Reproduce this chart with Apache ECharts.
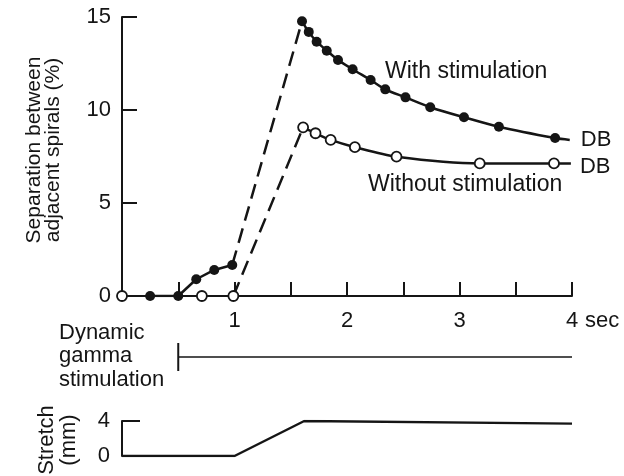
<!DOCTYPE html>
<html lang="en">
<head>
<meta charset="UTF-8">
<title>Spiral separation with and without stimulation</title>
<script src="https://cdn.jsdelivr.net/npm/echarts@6/dist/echarts.min.js"></script>
<style>
    html, body { margin: 0; padding: 0; background: #fff; }
    #main { width: 624px; height: 476px; }
</style>
</head>
<body>
<div id="main"></div>
<script>
// values: [time (sec), separation (%)]
var withPre = [[0.25, 0], [0.5, 0], [0.66, 0.9], [0.82, 1.4], [0.98, 1.67]];
var withPost = [[1.6, 14.77], [1.66, 14.2], [1.73, 13.67], [1.82, 13.19], [1.92, 12.69],
                [2.05, 12.19], [2.21, 11.61], [2.34, 11.11], [2.52, 10.68], [2.74, 10.15],
                [3.04, 9.61], [3.35, 9.1], [3.85, 8.49]];
var withEnd = [3.98, 8.39];

var withoutPre = [[0, 0], [0.71, 0], [0.99, 0]];
var withoutPost = [[1.61, 9.07], [1.72, 8.75], [1.855, 8.39], [2.07, 8.0], [2.44, 7.49],
                   [3.18, 7.13], [3.84, 7.13]];
var withoutEnd = [3.99, 7.13];

// dynamic gamma stimulation: on at 0.5 s, until 4 s
var gammaOn = [0.5, 4];
// stretch (mm)
var stretchTrace = [[0, 0], [1.0, 0], [1.62, 4], [4, 3.7]];

var yTicks = [0, 5, 10, 15];
var xLabelled = [1, 2, 3, 4];

var ink = '#151515';
var font = "'Liberation Sans', Arial, Helvetica, sans-serif";

var myChart = echarts.init(document.getElementById('main'));

function last(a) { return a[a.length - 1]; }

var option = {
    backgroundColor: '#fff',
    animation: false,
    textStyle: { fontFamily: font, color: ink },
    grid: [
        { left: 122, right: 52, top: 17, height: 279, containLabel: false, outerBoundsMode: 'none' },
        { left: 122, right: 52, top: 343, height: 28, containLabel: false, outerBoundsMode: 'none' },
        { left: 122, right: 52, top: 421, height: 35, containLabel: false, outerBoundsMode: 'none' }
    ],
    xAxis: [
        {
            gridIndex: 0, type: 'value', min: 0, max: 4, interval: 0.5,
            axisLine: { show: true, onZero: false, lineStyle: { color: ink, width: 2 } },
            axisTick: { show: true, inside: true, length: 14, lineStyle: { color: ink, width: 2 } },
            axisLabel: {
                show: true, margin: 14, color: ink, fontSize: 22, fontFamily: font,
                showMinLabel: true, showMaxLabel: true,
                formatter: function (v) { return xLabelled.indexOf(v) >= 0 ? String(v) : ''; }
            },
            splitLine: { show: false }
        },
        { gridIndex: 1, type: 'value', min: 0, max: 4, show: false },
        { gridIndex: 2, type: 'value', min: 0, max: 4, show: false }
    ],
    yAxis: [
        {
            gridIndex: 0, type: 'value', min: yTicks[0], max: last(yTicks), interval: 5,
            axisLine: { show: true, onZero: false, lineStyle: { color: ink, width: 2 } },
            axisTick: { show: true, inside: true, length: 15, lineStyle: { color: ink, width: 2 } },
            axisLabel: { margin: 11, color: ink, fontSize: 22, fontFamily: font },
            splitLine: { show: false }
        },
        { gridIndex: 1, type: 'value', min: 0, max: 2, show: false },
        {
            gridIndex: 2, type: 'value', min: 0, max: 4, interval: 4,
            axisLine: { show: true, onZero: false, lineStyle: { color: ink, width: 2 } },
            axisTick: { show: true, inside: true, length: 18, lineStyle: { color: ink, width: 2 } },
            axisLabel: { margin: 12, color: ink, fontSize: 22, fontFamily: font },
            splitLine: { show: false }
        }
    ],
    series: [
        {
            name: 'With stimulation (before)', type: 'line', xAxisIndex: 0, yAxisIndex: 0,
            data: withPre, symbol: 'circle', symbolSize: 10,
            itemStyle: { color: ink },
            lineStyle: { color: ink, width: 2.5 }
        },
        {
            name: 'With stimulation (stretch)', type: 'line', xAxisIndex: 0, yAxisIndex: 0,
            data: [last(withPre), withPost[0]], symbol: 'none',
            lineStyle: { color: ink, width: 2.5, type: [15, 8] }
        },
        {
            name: 'With stimulation', type: 'line', xAxisIndex: 0, yAxisIndex: 0,
            data: withPost.concat([{ value: withEnd, symbol: 'none' }]),
            smooth: 0.3, symbol: 'circle', symbolSize: 10,
            itemStyle: { color: ink },
            lineStyle: { color: ink, width: 2.5 },
            endLabel: { show: true, formatter: 'DB', distance: 11, color: ink,
                        fontSize: 22, fontFamily: font }
        },
        {
            name: 'Without stimulation (before)', type: 'line', xAxisIndex: 0, yAxisIndex: 0,
            data: withoutPre, symbol: 'circle', symbolSize: 10,
            itemStyle: { color: '#fff', borderColor: ink, borderWidth: 1.8 },
            lineStyle: { color: ink, width: 2 }
        },
        {
            name: 'Without stimulation (stretch)', type: 'line', xAxisIndex: 0, yAxisIndex: 0,
            data: [last(withoutPre), withoutPost[0]], symbol: 'none',
            lineStyle: { color: ink, width: 2.5, type: [15, 8] }
        },
        {
            name: 'Without stimulation', type: 'line', xAxisIndex: 0, yAxisIndex: 0,
            data: withoutPost.concat([{ value: withoutEnd, symbol: 'none' }]),
            smooth: 0.3, symbol: 'circle', symbolSize: 10,
            itemStyle: { color: '#fff', borderColor: ink, borderWidth: 1.8 },
            lineStyle: { color: ink, width: 2.5 },
            endLabel: { show: true, formatter: 'DB', distance: 9, offset: [0, 4], color: ink,
                        fontSize: 22, fontFamily: font }
        },
        {
            name: 'Dynamic gamma stimulation', type: 'line', xAxisIndex: 1, yAxisIndex: 1,
            data: [[gammaOn[0], 1], [gammaOn[1], 1]], symbol: 'none',
            lineStyle: { color: ink, width: 1.6 }
        },
        {
            name: 'Stimulation onset', type: 'line', xAxisIndex: 1, yAxisIndex: 1,
            data: [[gammaOn[0], 0], [gammaOn[0], 2]], symbol: 'none',
            lineStyle: { color: ink, width: 2 }
        },
        {
            name: 'Stretch', type: 'line', xAxisIndex: 2, yAxisIndex: 2,
            data: stretchTrace, symbol: 'none',
            lineStyle: { color: ink, width: 2.5 }
        }
    ],
    graphic: [
        {
            type: 'text', x: 44, y: 150, rotation: Math.PI / 2,
            style: { text: 'Separation between\nadjacent spirals (%)', font: '21px ' + font,
                     lineHeight: 19, fill: ink, textAlign: 'center', textVerticalAlign: 'middle' }
        },
        {
            type: 'text', x: 385, y: 72,
            style: { text: 'With stimulation', font: '23px ' + font, fill: ink,
                     textAlign: 'left', textVerticalAlign: 'middle' }
        },
        {
            type: 'text', x: 368, y: 185,
            style: { text: 'Without stimulation', font: '23px ' + font, fill: ink,
                     textAlign: 'left', textVerticalAlign: 'middle' }
        },
        {
            type: 'text', x: 585, y: 321,
            style: { text: 'sec', font: '22px ' + font, fill: ink,
                     textAlign: 'left', textVerticalAlign: 'middle' }
        },
        {
            type: 'text', x: 59, y: 321,
            style: { text: 'Dynamic\ngamma\nstimulation', font: '22px ' + font, lineHeight: 23.5,
                     fill: ink, textAlign: 'left', textVerticalAlign: 'top' }
        },
        {
            type: 'text', x: 58, y: 440, rotation: Math.PI / 2,
            style: { text: 'Stretch\n(mm)', font: '22px ' + font, lineHeight: 22,
                     fill: ink, textAlign: 'center', textVerticalAlign: 'middle' }
        }
    ]
};

myChart.setOption(option);
</script>
</body>
</html>
